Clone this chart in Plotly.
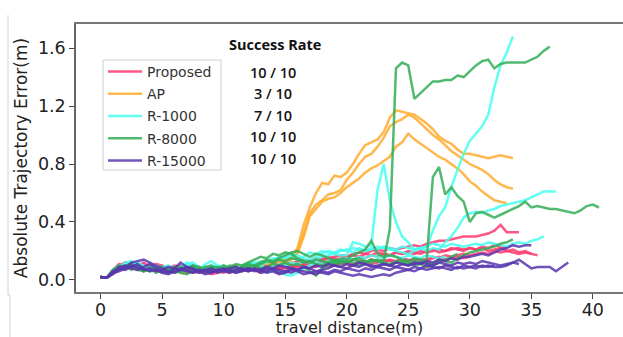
import numpy as np
import plotly.graph_objects as go

STEP = 0.5  # travel-distance sampling interval (m)

methods = ["Proposed", "AP", "R-1000", "R-8000", "R-15000"]
success = ["10 / 10", "3 / 10", "7 / 10", "10 / 10", "10 / 10"]
colors = ["#ff3a70", "#ffac2e", "#45fff0", "#35ad58", "#5a36b0"]

x_ticks = [0, 5, 10, 15, 20, 25, 30, 35, 40]
y_ticks = [0.0, 0.4, 0.8, 1.2, 1.6]

proposed_runs = [
    [0.02,0.015,0.06,0.10,0.12,0.10,0.09,0.11,0.08,0.07,
     0.09,0.08,0.06,0.07,0.09,0.08,0.06,0.05,0.07,0.08,
     0.06,0.07,0.09,0.08,0.07,0.09,0.10,0.08,0.09,0.11,
     0.10,0.12,0.11,0.13,0.12,0.14,0.15,0.14,0.16,0.17,
     0.16,0.18,0.19,0.18,0.20,0.21,0.20,0.22,0.21,0.22,
     0.23,0.24,0.23,0.25,0.26,0.27,0.27,0.28,0.29,0.30,
     0.30,0.30,0.31,0.32,0.34,0.38,0.33,0.33,0.33],
    [0.02,0.015,0.07,0.11,0.09,0.12,0.10,0.08,0.10,0.09,
     0.07,0.08,0.10,0.09,0.07,0.06,0.08,0.09,0.07,0.06,
     0.05,0.07,0.06,0.08,0.09,0.07,0.08,0.10,0.09,0.08,
     0.10,0.09,0.11,0.10,0.12,0.11,0.13,0.12,0.14,0.13,
     0.15,0.14,0.16,0.15,0.17,0.16,0.18,0.17,0.19,0.18,
     0.19,0.18,0.20,0.19,0.20,0.21,0.20,0.21,0.22,0.21,
     0.22,0.21,0.22,0.20,0.21,0.22,0.20,0.21,0.19,0.20,
     0.18,0.17],
    [0.02,0.015,0.05,0.09,0.12,0.11,0.09,0.07,0.09,0.11,
     0.10,0.08,0.07,0.05,0.06,0.08,0.07,0.06,0.04,0.05,
     0.07,0.06,0.08,0.07,0.06,0.08,0.09,0.07,0.08,0.09,
     0.08,0.10,0.09,0.11,0.10,0.09,0.11,0.12,0.10,0.11,
     0.12,0.11,0.13,0.12,0.14,0.13,0.12,0.14,0.13,0.15,
     0.14,0.13,0.15,0.14,0.16,0.15,0.17,0.16,0.17,0.18,
     0.17,0.18,0.19,0.18,0.20,0.19,0.20,0.19,0.18,0.19,0.18],
    [0.02,0.015,0.06,0.08,0.10,0.12,0.08,0.09,0.07,0.08,
     0.06,0.07,0.09,0.06,0.05,0.07,0.09,0.08,0.06,0.07,
     0.09,0.08,0.10,0.09,0.11,0.10,0.09,0.11,0.12,0.10,
     0.12,0.11,0.13,0.14,0.13,0.15,0.14,0.16,0.15,0.14,
     0.16,0.17,0.16,0.18,0.17,0.19,0.18,0.17,0.19,0.18,
     0.20,0.19,0.18,0.20,0.21,0.19,0.20,0.22,0.21,0.20,
     0.22,0.21,0.23,0.22,0.24,0.23,0.22],
    [0.02,0.015,0.07,0.09,0.11,0.08,0.10,0.12,0.09,0.08,
     0.08,0.06,0.08,0.10,0.08,0.06,0.05,0.07,0.09,0.08,
     0.06,0.05,0.07,0.06,0.08,0.07,0.05,0.06,0.08,0.07,
     0.09,0.08,0.10,0.09,0.08,0.10,0.11,0.09,0.10,0.12,
     0.11,0.10,0.12,0.13,0.11,0.12,0.14,0.13,0.12,0.14,
     0.13,0.15,0.14,0.13,0.15,0.16,0.14,0.15,0.16,0.15,
     0.16],
]

ap_runs = [
    [0.02,0.015,0.05,0.08,0.10,0.09,0.07,0.08,0.06,0.07,
     0.06,0.08,0.07,0.05,0.06,0.07,0.06,0.08,0.07,0.06,
     0.08,0.07,0.09,0.08,0.10,0.11,0.10,0.12,0.13,0.12,
     0.14,0.16,0.22,0.38,0.50,0.60,0.67,0.66,0.72,0.71,
     0.74,0.80,0.87,0.93,0.95,0.97,1.02,1.12,1.17,1.16,
     1.15,1.14,1.11,1.08,1.04,0.99,0.96,0.94,0.90,0.87,
     0.87,0.86,0.85,0.84,0.85,0.86,0.85,0.84],
    [0.02,0.015,0.06,0.09,0.11,0.08,0.09,0.07,0.08,0.10,
     0.08,0.06,0.07,0.09,0.08,0.06,0.07,0.05,0.06,0.08,
     0.07,0.09,0.08,0.10,0.09,0.11,0.12,0.11,0.13,0.14,
     0.13,0.15,0.20,0.32,0.46,0.52,0.55,0.59,0.60,0.62,
     0.69,0.74,0.80,0.85,0.87,0.92,0.98,1.06,1.09,1.11,
     1.14,1.12,1.08,1.04,1.00,0.97,0.93,0.89,0.86,0.83,
     0.80,0.78,0.76,0.73,0.69,0.66,0.64,0.63],
    [0.02,0.015,0.05,0.07,0.09,0.10,0.08,0.06,0.07,0.09,
     0.07,0.05,0.06,0.08,0.07,0.05,0.06,0.08,0.09,0.07,
     0.06,0.08,0.10,0.09,0.08,0.10,0.12,0.11,0.12,0.13,
     0.12,0.14,0.18,0.30,0.44,0.49,0.54,0.56,0.57,0.60,
     0.64,0.67,0.70,0.74,0.77,0.79,0.82,0.85,0.92,0.95,
     1.01,0.97,0.94,0.91,0.88,0.85,0.83,0.80,0.77,0.73,
     0.68,0.65,0.61,0.58,0.55,0.54,0.53],
]

r1000_runs = [
    [0.02,0.015,0.06,0.08,0.11,0.09,0.12,0.10,0.08,0.07,
     0.09,0.07,0.06,0.08,0.10,0.08,0.07,0.11,0.13,0.10,
     0.08,0.09,0.07,0.10,0.12,0.11,0.13,0.12,0.14,0.16,
     0.15,0.17,0.14,0.16,0.19,0.18,0.20,0.19,0.18,0.17,
     0.17,0.26,0.25,0.23,0.24,0.62,0.80,0.55,0.40,0.30,
     0.26,0.21,0.22,0.23,0.34,0.44,0.50,0.64,0.76,0.87,
     0.96,1.01,1.06,1.14,1.33,1.48,1.57,1.68],
    [0.02,0.015,0.05,0.09,0.10,0.12,0.11,0.09,0.08,0.10,
     0.08,0.07,0.09,0.08,0.11,0.12,0.09,0.08,0.07,0.09,
     0.10,0.08,0.07,0.09,0.11,0.12,0.10,0.13,0.15,0.14,
     0.16,0.18,0.17,0.15,0.14,0.16,0.18,0.20,0.19,0.21,
     0.20,0.22,0.21,0.20,0.22,0.21,0.23,0.22,0.21,0.23,
     0.22,0.21,0.22,0.20,0.22,0.21,0.26,0.30,0.36,0.43,
     0.46,0.47,0.46,0.48,0.49,0.51,0.52,0.53,0.54,0.55,
     0.57,0.59,0.61,0.61,0.61],
    [0.02,0.015,0.07,0.10,0.09,0.11,0.08,0.07,0.09,0.08,
     0.06,0.08,0.07,0.09,0.12,0.10,0.08,0.06,0.07,0.08,
     0.09,0.07,0.06,0.08,0.07,0.09,0.10,0.08,0.09,0.11,
     0.10,0.12,0.11,0.13,0.12,0.14,0.16,0.17,0.18,0.20,
     0.21,0.19,0.22,0.20,0.21,0.23,0.22,0.21,0.20,0.19,
     0.18,0.20,0.22,0.23,0.25,0.24,0.23,0.25,0.24,0.23,
     0.24,0.25,0.24,0.26,0.25,0.24,0.23,0.25,0.26,0.25,
     0.27,0.28,0.30],
    [0.02,0.015,0.06,0.09,0.12,0.13,0.10,0.08,0.06,0.07,
     0.09,0.10,0.08,0.06,0.08,0.09,0.07,0.08,0.10,0.09,
     0.07,0.06,0.08,0.10,0.09,0.08,0.06,0.05,0.07,0.05,
     0.04,0.03,0.05,0.08,0.10,0.12,0.11,0.13,0.12,0.14,
     0.15,0.14,0.16,0.15,0.17,0.16,0.15,0.17,0.16,0.15,
     0.17,0.16,0.15,0.17,0.16,0.15,0.16],
]

r8000_runs = [
    [0.02,0.015,0.05,0.08,0.10,0.07,0.09,0.06,0.08,0.07,
     0.05,0.07,0.09,0.08,0.06,0.08,0.07,0.09,0.10,0.08,
     0.07,0.09,0.11,0.10,0.12,0.14,0.16,0.15,0.18,0.17,
     0.19,0.18,0.15,0.13,0.12,0.14,0.13,0.12,0.14,0.13,
     0.12,0.14,0.15,0.13,0.12,0.14,0.13,0.35,1.46,1.50,
     1.48,1.25,1.29,1.33,1.37,1.37,1.38,1.38,1.41,1.40,
     1.44,1.48,1.51,1.52,1.46,1.49,1.50,1.50,1.50,1.50,
     1.52,1.54,1.58,1.61],
    [0.02,0.015,0.06,0.09,0.08,0.10,0.07,0.06,0.08,0.05,
     0.07,0.06,0.08,0.05,0.04,0.06,0.08,0.07,0.09,0.06,
     0.08,0.10,0.09,0.07,0.10,0.09,0.11,0.13,0.12,0.14,
     0.13,0.15,0.14,0.12,0.13,0.11,0.10,0.12,0.11,0.13,
     0.12,0.14,0.13,0.12,0.14,0.13,0.12,0.11,0.13,0.12,
     0.11,0.13,0.12,0.14,0.71,0.78,0.59,0.64,0.58,0.54,
     0.40,0.46,0.47,0.45,0.43,0.45,0.47,0.49,0.51,0.54,
     0.50,0.51,0.50,0.49,0.49,0.48,0.47,0.46,0.48,0.51,
     0.52,0.50],
    [0.02,0.015,0.07,0.10,0.08,0.11,0.09,0.07,0.06,0.08,
     0.09,0.07,0.05,0.06,0.08,0.10,0.09,0.07,0.06,0.08,
     0.10,0.08,0.07,0.09,0.08,0.10,0.12,0.14,0.13,0.15,
     0.17,0.19,0.20,0.18,0.16,0.18,0.17,0.15,0.13,0.15,
     0.14,0.17,0.19,0.21,0.27,0.18,0.16,0.17,0.16,0.14,
     0.13,0.15,0.14,0.12,0.11,0.14,0.13,0.12,0.15,0.17,
     0.19,0.20,0.21,0.22,0.23,0.25,0.26,0.28],
    [0.02,0.015,0.05,0.08,0.09,0.11,0.08,0.06,0.09,0.07,
     0.06,0.05,0.07,0.09,0.08,0.10,0.07,0.06,0.08,0.09,
     0.07,0.08,0.06,0.09,0.11,0.10,0.08,0.09,0.11,0.10,
     0.12,0.10,0.11,0.09,0.06,0.03,0.08,0.10,0.12,0.11,
     0.13,0.12,0.10,0.12,0.14,0.13,0.11,0.10,0.12,0.13,
     0.12,0.10,0.11,0.09,0.10,0.12,0.14,0.16,0.18],
]

r15000_runs = [
    [0.02,0.015,0.04,0.07,0.09,0.12,0.13,0.14,0.12,0.10,
     0.08,0.06,0.05,0.07,0.06,0.05,0.07,0.06,0.05,0.07,
     0.06,0.05,0.07,0.08,0.06,0.07,0.05,0.06,0.08,0.07,
     0.06,0.05,0.07,0.06,0.05,0.04,0.06,0.05,0.07,0.06,
     0.08,0.07,0.06,0.08,0.07,0.09,0.08,0.07,0.09,0.08,
     0.07,0.09,0.08,0.10,0.09,0.08,0.10,0.09,0.08,0.10,
     0.09,0.10,0.09,0.10,0.09,0.09,0.10,0.12,0.14,0.11,
     0.08,0.09,0.09,0.09,0.06,0.09,0.12],
    [0.02,0.015,0.05,0.09,0.10,0.08,0.07,0.09,0.11,0.08,
     0.06,0.05,0.08,0.12,0.09,0.07,0.05,0.06,0.07,0.05,
     0.06,0.07,0.05,0.06,0.08,0.07,0.06,0.08,0.07,0.05,
     0.06,0.08,0.07,0.09,0.08,0.06,0.07,0.08,0.10,0.09,
     0.08,0.10,0.09,0.11,0.10,0.09,0.11,0.10,0.12,0.11,
     0.10,0.12,0.11,0.13,0.12,0.14,0.13,0.15,0.14,0.16,
     0.16,0.17,0.18,0.17,0.19,0.21,0.22,0.24,0.23,0.24,0.24],
    [0.02,0.015,0.06,0.08,0.07,0.09,0.11,0.08,0.06,0.07,
     0.05,0.04,0.06,0.08,0.07,0.05,0.06,0.04,0.05,0.07,
     0.08,0.06,0.05,0.07,0.06,0.08,0.07,0.05,0.06,0.04,
     0.05,0.07,0.06,0.04,0.05,0.06,0.05,0.04,0.06,0.05,
     0.04,0.03,0.04,0.03,0.02,0.03,0.04,0.03,0.05,0.06,
     0.07,0.06,0.08,0.07,0.08,0.09,0.08,0.07,0.09,0.08,
     0.09,0.08,0.10,0.09,0.10],
    [0.02,0.015,0.05,0.06,0.08,0.10,0.09,0.07,0.08,0.06,
     0.07,0.09,0.08,0.07,0.09,0.08,0.06,0.07,0.08,0.06,
     0.07,0.08,0.09,0.07,0.08,0.06,0.07,0.09,0.08,0.10,
     0.09,0.08,0.07,0.09,0.08,0.10,0.09,0.11,0.10,0.09,
     0.11,0.10,0.12,0.11,0.09,0.10,0.11,0.10,0.09,0.11,
     0.10,0.11,0.12,0.11,0.10,0.12,0.11,0.10,0.12,0.11,
     0.12,0.11,0.13,0.12,0.11,0.10,0.11,0.12,0.11],
]

all_runs = [proposed_runs, ap_runs, r1000_runs, r8000_runs, r15000_runs]

W, H = 623, 337
ML, MR, MT, MB = 76, 0, 24, 45
PW, PH = W - ML - MR, H - MT - MB


def px_x(p):
    return (p - ML) / PW


def px_y(p):
    return (H - MB - p) / PH


fig = go.Figure()
for name, col, runs in zip(methods, colors, all_runs):
    for i, ys in enumerate(runs):
        xs = np.arange(len(ys)) * STEP
        fig.add_trace(go.Scatter(
            x=xs, y=ys, mode="lines", name=name, legendgroup=name,
            showlegend=(i == 0), opacity=0.85,
            line=dict(color=col, width=2.5),
        ))

axis_font = dict(family="DejaVu Sans", size=17.5, color="#222222")
fig.update_layout(
    width=W, height=H,
    margin=dict(l=ML, r=MR, t=MT, b=MB),
    paper_bgcolor="white", plot_bgcolor="white",
    showlegend=True,
    legend=dict(
        x=px_x(103), y=px_y(56), xanchor="left", yanchor="top",
        bgcolor="rgba(0,0,0,0)", borderwidth=0, itemwidth=34,
        font=dict(family="DejaVu Sans", size=14, color="#333333"),
        tracegroupgap=1, traceorder="grouped",
    ),
    xaxis=dict(
        range=[-2.0, 42.45], tickvals=x_ticks, showgrid=False, zeroline=False,
        automargin=False,
        showline=True, mirror=True, linecolor="#777777", linewidth=1.5,
        ticks="outside", ticklen=5, tickcolor="#444444", tickfont=axis_font,
        ticklabelstandoff=-4,
        title=dict(text="travel distance(m)", standoff=15,
                   font=dict(family="DejaVu Sans", size=16, color="#222222")),
    ),
    yaxis=dict(
        range=[-0.083, 1.766], tickvals=y_ticks, tickformat=".1f",
        showgrid=False, zeroline=False, automargin=False,
        showline=True, linecolor="#666666", linewidth=1.5,
        ticks="outside", ticklen=5, tickcolor="#444444", tickfont=axis_font,
        title=dict(text="Absolute Trajectory Error(m)", standoff=6,
                   font=dict(family="DejaVu Sans", size=17, color="#222222")),
    ),
)

# legend frame
fig.add_shape(type="rect", xref="paper", yref="paper", layer="above",
              x0=px_x(103), x1=px_x(221), y0=px_y(170), y1=px_y(60),
              fillcolor="white", line=dict(color="#d0d0d0", width=1))

fig.add_annotation(
    x=px_x(275), y=px_y(45), xref="paper", yref="paper", showarrow=False,
    text="<b>Success Rate</b>", xanchor="center", yanchor="middle",
    font=dict(family="Open Sans", size=14.5, color="#111111"),
)
for k, s in enumerate(success):
    fig.add_annotation(
        x=px_x(273), y=px_y(72 + k * 21.6), xref="paper", yref="paper",
        showarrow=False, text=s, xanchor="center", yanchor="middle",
        font=dict(family="Open Sans", size=14.5, color="#111111", weight=600),
    )

# faint frame remnants at the far left of the picture
fig.add_shape(type="line", xref="paper", yref="paper",
              x0=px_x(8), x1=px_x(8), y0=px_y(15), y1=px_y(295),
              line=dict(color="#d4d4d4", width=1))
fig.add_shape(type="line", xref="paper", yref="paper",
              x0=px_x(8), x1=px_x(10), y0=px_y(295), y1=px_y(295),
              line=dict(color="#d4d4d4", width=1))
fig.add_shape(type="line", xref="paper", yref="paper",
              x0=px_x(10), x1=px_x(10), y0=px_y(295), y1=px_y(337),
              line=dict(color="#d4d4d4", width=1))

fig.write_html(
    "out.html",
    config={"displayModeBar": False},
    post_script="document.body.style.margin='0px';document.body.style.overflow='hidden';",
)
